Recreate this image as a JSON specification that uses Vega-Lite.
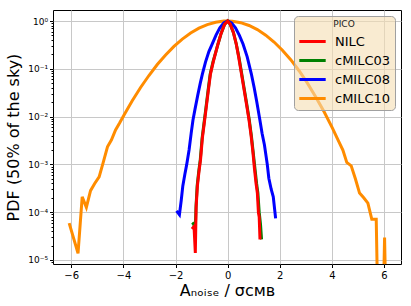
{
  "$schema": "https://vega.github.io/schema/vega-lite/v6.json",
  "autosize": {"type": "none"},
  "width": 348,
  "height": 254,
  "padding": {"left": 53, "top": 10, "right": 10, "bottom": 42},
  "background": "white",
  "config": {
    "font": "DejaVu Sans",
    "view": {"stroke": "black", "strokeWidth": 1},
    "axis": {"domain": false, "gridColor": "#c8c8c8", "gridWidth": 1, "tickColor": "black", "labelColor": "black", "titleColor": "black", "titleFontWeight": "normal"}
  },
  "data": {"values": [
    {"s": "cMILC10", "x": -6.08, "y": 5.89e-5},
    {"s": "cMILC10", "x": -5.74, "y": 1.38e-5},
    {"s": "cMILC10", "x": -5.58, "y": 2.09e-4},
    {"s": "cMILC10", "x": -5.42, "y": 1.26e-4},
    {"s": "cMILC10", "x": -5.26, "y": 2.82e-4},
    {"s": "cMILC10", "x": -5.10, "y": 3.98e-4},
    {"s": "cMILC10", "x": -4.93, "y": 5.50e-4},
    {"s": "cMILC10", "x": -4.77, "y": 1.12e-3},
    {"s": "cMILC10", "x": -4.61, "y": 2.34e-3},
    {"s": "cMILC10", "x": -4.46, "y": 3.24e-3},
    {"s": "cMILC10", "x": -4.30, "y": 5.25e-3},
    {"s": "cMILC10", "x": -4.14, "y": 7.41e-3},
    {"s": "cMILC10", "x": -3.98, "y": 1.07e-2},
    {"s": "cMILC10", "x": -3.66, "y": 2.14e-2},
    {"s": "cMILC10", "x": -3.34, "y": 4.07e-2},
    {"s": "cMILC10", "x": -3.02, "y": 7.24e-2},
    {"s": "cMILC10", "x": -2.70, "y": 0.123},
    {"s": "cMILC10", "x": -2.38, "y": 0.195},
    {"s": "cMILC10", "x": -2.06, "y": 0.295},
    {"s": "cMILC10", "x": -1.74, "y": 0.417},
    {"s": "cMILC10", "x": -1.42, "y": 0.562},
    {"s": "cMILC10", "x": -1.10, "y": 0.708},
    {"s": "cMILC10", "x": -0.78, "y": 0.839},
    {"s": "cMILC10", "x": -0.46, "y": 0.942},
    {"s": "cMILC10", "x": -0.14, "y": 0.995},
    {"s": "cMILC10", "x": 0.02, "y": 1.0},
    {"s": "cMILC10", "x": 0.18, "y": 0.990},
    {"s": "cMILC10", "x": 0.50, "y": 0.923},
    {"s": "cMILC10", "x": 0.82, "y": 0.807},
    {"s": "cMILC10", "x": 1.14, "y": 0.661},
    {"s": "cMILC10", "x": 1.46, "y": 0.506},
    {"s": "cMILC10", "x": 1.78, "y": 0.363},
    {"s": "cMILC10", "x": 2.10, "y": 0.245},
    {"s": "cMILC10", "x": 2.42, "y": 0.155},
    {"s": "cMILC10", "x": 2.74, "y": 0.0912},
    {"s": "cMILC10", "x": 3.06, "y": 0.0501},
    {"s": "cMILC10", "x": 3.38, "y": 0.0257},
    {"s": "cMILC10", "x": 3.70, "y": 0.0126},
    {"s": "cMILC10", "x": 4.02, "y": 5.75e-3},
    {"s": "cMILC10", "x": 4.26, "y": 3.02e-3},
    {"s": "cMILC10", "x": 4.42, "y": 2.0e-3},
    {"s": "cMILC10", "x": 4.57, "y": 1.10e-3},
    {"s": "cMILC10", "x": 4.74, "y": 9.33e-4},
    {"s": "cMILC10", "x": 4.90, "y": 5.01e-4},
    {"s": "cMILC10", "x": 5.06, "y": 2.51e-4},
    {"s": "cMILC10", "x": 5.22, "y": 2.0e-4},
    {"s": "cMILC10", "x": 5.38, "y": 1.55e-4},
    {"s": "cMILC10", "x": 5.53, "y": 7.08e-5},
    {"s": "cMILC10", "x": 5.70, "y": 7.08e-5},
    {"s": "cMILC10", "x": 5.86, "y": 1e-9},
    {"s": "cMILC10", "x": 6.02, "y": 2.95e-5},
    {"s": "cMILC10", "x": 6.18, "y": 1e-9},

    {"s": "cMILC08", "x": -1.96, "y": 1.07e-4},
    {"s": "cMILC08", "x": -1.85, "y": 8.91e-5},
    {"s": "cMILC08", "x": -1.78, "y": 1.78e-4},
    {"s": "cMILC08", "x": -1.72, "y": 3.55e-4},
    {"s": "cMILC08", "x": -1.64, "y": 6.31e-4},
    {"s": "cMILC08", "x": -1.57, "y": 1.0e-3},
    {"s": "cMILC08", "x": -1.48, "y": 2.0e-3},
    {"s": "cMILC08", "x": -1.40, "y": 4.47e-3},
    {"s": "cMILC08", "x": -1.33, "y": 8.51e-3},
    {"s": "cMILC08", "x": -1.25, "y": 1.45e-2},
    {"s": "cMILC08", "x": -1.15, "y": 2.75e-2},
    {"s": "cMILC08", "x": -1.05, "y": 5.01e-2},
    {"s": "cMILC08", "x": -0.97, "y": 7.76e-2},
    {"s": "cMILC08", "x": -0.85, "y": 0.138},
    {"s": "cMILC08", "x": -0.72, "y": 0.229},
    {"s": "cMILC08", "x": -0.59, "y": 0.331},
    {"s": "cMILC08", "x": -0.45, "y": 0.501},
    {"s": "cMILC08", "x": -0.30, "y": 0.724},
    {"s": "cMILC08", "x": -0.15, "y": 0.912},
    {"s": "cMILC08", "x": 0.0, "y": 1.0},
    {"s": "cMILC08", "x": 0.15, "y": 0.912},
    {"s": "cMILC08", "x": 0.30, "y": 0.724},
    {"s": "cMILC08", "x": 0.45, "y": 0.501},
    {"s": "cMILC08", "x": 0.59, "y": 0.331},
    {"s": "cMILC08", "x": 0.75, "y": 0.178},
    {"s": "cMILC08", "x": 0.91, "y": 0.0776},
    {"s": "cMILC08", "x": 1.02, "y": 0.0398},
    {"s": "cMILC08", "x": 1.12, "y": 0.0200},
    {"s": "cMILC08", "x": 1.23, "y": 8.91e-3},
    {"s": "cMILC08", "x": 1.32, "y": 4.47e-3},
    {"s": "cMILC08", "x": 1.41, "y": 2.57e-3},
    {"s": "cMILC08", "x": 1.52, "y": 1.0e-3},
    {"s": "cMILC08", "x": 1.58, "y": 5.13e-4},
    {"s": "cMILC08", "x": 1.67, "y": 3.02e-4},
    {"s": "cMILC08", "x": 1.75, "y": 2.09e-4},
    {"s": "cMILC08", "x": 1.84, "y": 7.41e-5},

    {"s": "cMILC03", "x": -1.36, "y": 6.03e-5},
    {"s": "cMILC03", "x": -1.30, "y": 5.62e-5},
    {"s": "cMILC03", "x": -1.25, "y": 3.55e-5},
    {"s": "cMILC03", "x": -1.21, "y": 1.41e-4},
    {"s": "cMILC03", "x": -1.17, "y": 3.55e-4},
    {"s": "cMILC03", "x": -1.11, "y": 7.08e-4},
    {"s": "cMILC03", "x": -1.05, "y": 1.26e-3},
    {"s": "cMILC03", "x": -0.98, "y": 3.55e-3},
    {"s": "cMILC03", "x": -0.91, "y": 7.08e-3},
    {"s": "cMILC03", "x": -0.83, "y": 1.58e-2},
    {"s": "cMILC03", "x": -0.75, "y": 3.55e-2},
    {"s": "cMILC03", "x": -0.67, "y": 7.76e-2},
    {"s": "cMILC03", "x": -0.56, "y": 0.141},
    {"s": "cMILC03", "x": -0.45, "y": 0.229},
    {"s": "cMILC03", "x": -0.37, "y": 0.331},
    {"s": "cMILC03", "x": -0.25, "y": 0.550},
    {"s": "cMILC03", "x": -0.12, "y": 0.851},
    {"s": "cMILC03", "x": 0.0, "y": 1.0},
    {"s": "cMILC03", "x": 0.10, "y": 0.851},
    {"s": "cMILC03", "x": 0.22, "y": 0.575},
    {"s": "cMILC03", "x": 0.33, "y": 0.331},
    {"s": "cMILC03", "x": 0.43, "y": 0.178},
    {"s": "cMILC03", "x": 0.53, "y": 0.0851},
    {"s": "cMILC03", "x": 0.63, "y": 0.0398},
    {"s": "cMILC03", "x": 0.73, "y": 0.0186},
    {"s": "cMILC03", "x": 0.83, "y": 8.51e-3},
    {"s": "cMILC03", "x": 0.91, "y": 3.98e-3},
    {"s": "cMILC03", "x": 0.98, "y": 1.78e-3},
    {"s": "cMILC03", "x": 1.05, "y": 7.94e-4},
    {"s": "cMILC03", "x": 1.11, "y": 3.98e-4},
    {"s": "cMILC03", "x": 1.16, "y": 2.51e-4},
    {"s": "cMILC03", "x": 1.21, "y": 1.0e-4},
    {"s": "cMILC03", "x": 1.26, "y": 5.62e-5},
    {"s": "cMILC03", "x": 1.30, "y": 2.69e-5},

    {"s": "NILC", "x": -1.37, "y": 4.47e-5},
    {"s": "NILC", "x": -1.29, "y": 5.01e-5},
    {"s": "NILC", "x": -1.24, "y": 1.41e-5},
    {"s": "NILC", "x": -1.21, "y": 1.26e-4},
    {"s": "NILC", "x": -1.16, "y": 3.55e-4},
    {"s": "NILC", "x": -1.10, "y": 7.08e-4},
    {"s": "NILC", "x": -1.04, "y": 1.26e-3},
    {"s": "NILC", "x": -0.97, "y": 3.55e-3},
    {"s": "NILC", "x": -0.90, "y": 7.08e-3},
    {"s": "NILC", "x": -0.82, "y": 1.58e-2},
    {"s": "NILC", "x": -0.74, "y": 3.55e-2},
    {"s": "NILC", "x": -0.66, "y": 7.76e-2},
    {"s": "NILC", "x": -0.55, "y": 0.141},
    {"s": "NILC", "x": -0.45, "y": 0.229},
    {"s": "NILC", "x": -0.37, "y": 0.331},
    {"s": "NILC", "x": -0.25, "y": 0.550},
    {"s": "NILC", "x": -0.12, "y": 0.851},
    {"s": "NILC", "x": 0.0, "y": 1.0},
    {"s": "NILC", "x": 0.10, "y": 0.851},
    {"s": "NILC", "x": 0.22, "y": 0.575},
    {"s": "NILC", "x": 0.33, "y": 0.331},
    {"s": "NILC", "x": 0.42, "y": 0.178},
    {"s": "NILC", "x": 0.52, "y": 0.0851},
    {"s": "NILC", "x": 0.62, "y": 0.0398},
    {"s": "NILC", "x": 0.72, "y": 0.0186},
    {"s": "NILC", "x": 0.82, "y": 8.51e-3},
    {"s": "NILC", "x": 0.90, "y": 3.98e-3},
    {"s": "NILC", "x": 0.97, "y": 1.78e-3},
    {"s": "NILC", "x": 1.03, "y": 7.94e-4},
    {"s": "NILC", "x": 1.09, "y": 3.98e-4},
    {"s": "NILC", "x": 1.14, "y": 2.51e-4},
    {"s": "NILC", "x": 1.18, "y": 9.77e-5},
    {"s": "NILC", "x": 1.21, "y": 7.94e-5},
    {"s": "NILC", "x": 1.24, "y": 2.69e-5}
  ]},
  "mark": {"type": "line", "strokeWidth": 3, "clip": true},
  "encoding": {
    "x": {
      "field": "x", "type": "quantitative",
      "scale": {"domain": [-6.7, 6.65], "nice": false, "zero": false},
      "axis": {
        "values": [-6, -4, -2, 0, 2, 4, 6],
        "labelExpr": "datum.value < 0 ? '\u2212' + abs(datum.value) : '' + datum.value",
        "labelFontSize": 10, "labelPadding": 3, "tickSize": 3.5,
        "title": "A\u2099\u2092\u1d62\u209b\u2091 / \u03c3\u1d04\u1d0d\u0299",
        "titleFontSize": 16, "titlePadding": 2
      }
    },
    "y": {
      "field": "y", "type": "quantitative",
      "scale": {"type": "log", "domain": [8.24e-6, 1.70], "nice": false},
      "axis": {
        "values": [9e-6, 1e-5, 2e-5, 3e-5, 4e-5, 5e-5, 6e-5, 7e-5, 8e-5, 9e-5, 1e-4, 2e-4, 3e-4, 4e-4, 5e-4, 6e-4, 7e-4, 8e-4, 9e-4, 1e-3, 2e-3, 3e-3, 4e-3, 5e-3, 6e-3, 7e-3, 8e-3, 9e-3, 1e-2, 2e-2, 3e-2, 4e-2, 5e-2, 6e-2, 7e-2, 8e-2, 9e-2, 0.1, 0.2, 0.3, 0.4, 0.5, 0.6, 0.7, 0.8, 0.9, 1],
        "labelExpr": "abs(log(datum.value)/LN10 - round(log(datum.value)/LN10)) < 0.001 ? '10' + (round(log(datum.value)/LN10) < 0 ? '\u207b' : '') + substring('\u2070\u00b9\u00b2\u00b3\u2074\u2075\u2076\u2077\u2078\u2079', abs(round(log(datum.value)/LN10)), abs(round(log(datum.value)/LN10)) + 1) : ''",
        "labelFontSize": 9, "labelPadding": 2,
        "tickSize": {"condition": {"test": "abs(log(datum.value)/LN10 - round(log(datum.value)/LN10)) < 0.001", "value": 3.5}, "value": 2},
        "gridOpacity": {"condition": {"test": "abs(log(datum.value)/LN10 - round(log(datum.value)/LN10)) < 0.001", "value": 1}, "value": 0},
        "title": "PDF (50% of the sky)",
        "titleFontSize": 16, "titlePadding": 6
      }
    },
    "color": {
      "field": "s", "type": "nominal",
      "scale": {"domain": ["NILC", "cMILC03", "cMILC08", "cMILC10"], "range": ["#ff0000", "#008000", "#0000ff", "#ff8c00"]},
      "legend": {
        "title": "PICO", "orient": "top-right", "offset": 6,
        "fillColor": "rgba(245,222,179,0.6)", "strokeColor": "#a0a0a0", "cornerRadius": 4, "padding": 4,
        "titleFontSize": 9, "titleFontWeight": "normal", "titleAnchor": "middle", "titleColor": "#222222", "titlePadding": 2,
        "labelFontSize": 13, "labelColor": "black", "labelOffset": 12,
        "symbolType": "M-1.55,0H1.55", "symbolStrokeWidth": 3, "symbolSize": 290, "symbolOffset": 4, "rowPadding": 1
      }
    }
  }
}
